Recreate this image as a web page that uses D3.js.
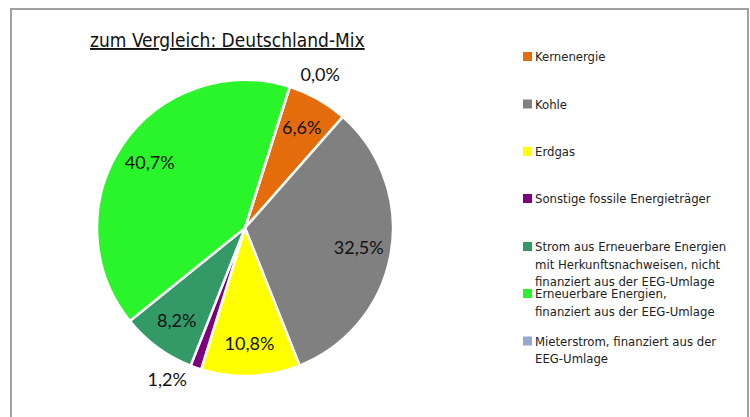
<!DOCTYPE html>
<html>
<head>
<meta charset="utf-8">
<script src="https://cdn.jsdelivr.net/npm/d3@7"></script>
<style>
  body { margin: 0; background: #fff; }
  svg { display: block; }
  .legend text { font-family: "Liberation Sans Narrow", "DejaVu Sans Condensed", sans-serif; font-size: 13px; fill: #222; }
  .lbl { font-family: Lato, "Open Sans", sans-serif; font-size: 18px; fill: #111; }
</style>
</head>
<body>
<svg width="750" height="417"></svg>
<script>
var categories = [
  ['Kernenergie'],
  ['Kohle'],
  ['Erdgas'],
  ['Sonstige fossile Energieträger'],
  ['Strom aus Erneuerbare Energien', 'mit Herkunftsnachweisen, nicht', 'finanziert aus der EEG-Umlage'],
  ['Erneuerbare Energien,', 'finanziert aus der EEG-Umlage'],
  ['Mieterstrom, finanziert aus der', 'EEG-Umlage']
];
var shares = [6.6, 32.5, 10.8, 1.2, 8.2, 40.7, 0.0];
var labels = ['6,6%', '32,5%', '10,8%', '1,2%', '8,2%', '40,7%', '0,0%'];
var colors = ['#e46c0a', '#808080', '#ffff00', '#7f007f', '#339966', '#2af52a', '#95a8d0'];
var outside = [false, false, false, true, false, false, true];
var legendY = [56.5, 104, 151.5, 198.5, 246.5, 293.5, 341];

var svg = d3.select('svg');

// frame
svg.append('path')
  .attr('d', 'M11,417 V9 H748 V417')
  .attr('fill', 'none')
  .attr('stroke', '#a0a0a0')
  .attr('stroke-width', 2);

svg.append('text')
  .attr('x', 90)
  .attr('y', 47)
  .attr('font-family', '"Liberation Sans Narrow", "DejaVu Sans Condensed", sans-serif')
  .attr('font-size', 19)
  .attr('fill', '#111')
  .attr('text-decoration', 'underline')
  .text('zum Vergleich: Deutschland-Mix');

var cx = 245, cy = 228, R = 148;
var start = 17.6 * Math.PI / 180;

var pie = d3.pie().sort(null).value(d => d)
  .startAngle(start).endAngle(start + 2 * Math.PI);
var arcs = pie(shares);
var arc = d3.arc().innerRadius(0).outerRadius(R);

var g = svg.append('g').attr('transform', 'translate(' + cx + ',' + cy + ')');

g.selectAll('path.slice')
  .data(arcs)
  .enter()
  .append('path')
    .attr('class', 'slice')
    .attr('d', arc)
    .attr('fill', (d, i) => colors[i])
    .attr('stroke', '#fff')
    .attr('stroke-width', 2.5);

var inArc = d3.arc().innerRadius(R * 0.78).outerRadius(R * 0.78);

g.selectAll('text.lbl')
  .data(arcs)
  .enter()
  .append('text')
    .attr('class', 'lbl')
    .each(function(d, i) {
      var el = d3.select(this);
      var a = (d.startAngle + d.endAngle) / 2;
      if (!outside[i]) {
        var c = inArc.centroid(d);
        el.attr('x', c[0]).attr('y', c[1]).attr('text-anchor', 'middle').attr('dy', '0.35em');
      } else {
        var r = R + 9;
        var x = Math.sin(a) * r, y = -Math.cos(a) * r;
        el.attr('x', x + (Math.sin(a) > 0 ? 8 : -6))
          .attr('y', y - Math.cos(a) * 4)
          .attr('text-anchor', Math.sin(a) > 0 ? 'start' : 'end')
          .attr('dy', '0.35em');
      }
    })
    .text((d, i) => labels[i]);

var lg = svg.append('g').attr('class', 'legend');
var item = lg.selectAll('g')
  .data(categories)
  .enter()
  .append('g')
    .attr('transform', (d, i) => 'translate(523,' + legendY[i] + ')');

item.append('rect')
  .attr('x', 0).attr('y', -4.5)
  .attr('width', 9).attr('height', 9)
  .attr('fill', (d, i) => colors[i]);

item.each(function(lines) {
  var t = d3.select(this).append('text').attr('x', 12).attr('y', 4.5);
  lines.forEach((s, k) => {
    t.append('tspan').attr('x', 12).attr('dy', k === 0 ? 0 : 17.5).text(s);
  });
});
</script>
</body>
</html>
